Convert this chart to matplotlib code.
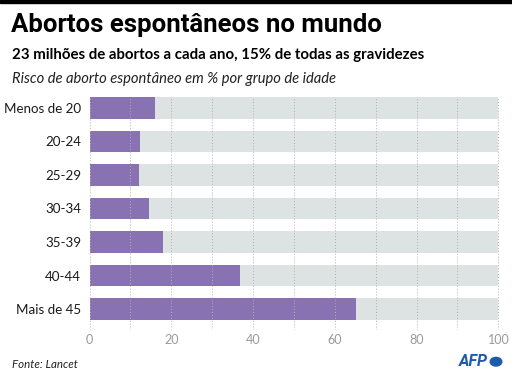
import matplotlib.pyplot as plt
from matplotlib.patches import Circle, Rectangle

# Data: miscarriage risk (%) by age group
groups = ["Menos de 20", "20-24", "25-29", "30-34", "35-39", "40-44", "Mais de 45"]
risk = [15.9, 12.3, 12.0, 14.5, 18.0, 36.9, 65.3]
xticks = [0, 20, 40, 60, 80, 100]

purple = "#8872b2"
track = "#dde3e3"
grey_txt = "#9a9a9a"
font = "Lato"

W, H = 512, 381
fig = plt.figure(figsize=(W / 100, H / 100), dpi=100)

# black band on top
fig.patches.append(Rectangle((0, 1 - 3 / H), 1, 3 / H, transform=fig.transFigure,
                             color="black", zorder=5))

ax = fig.add_axes([89.5 / W, 1 - 330 / H, (500 - 89.5) / W, (330 - 97) / H])
y = list(range(len(groups)))
ax.barh(y, [100] * len(groups), height=0.65, color=track, zorder=1)
ax.barh(y, risk, height=0.65, color=purple, zorder=2)

ax.set_xlim(0, 100.4)
ax.set_ylim(6.625, -0.325)
for gx in range(0, 101, 10):
    ax.axvline(gx, color="#b0b0b0", lw=0.7, ls=(0, (1, 2)), zorder=3)

ax.set_yticks(y)
ax.set_yticklabels(groups, fontsize=9.6, fontfamily=font, color="#1a1a1a")
ax.set_xticks(xticks)
ax.set_xticklabels([str(t) for t in xticks], fontsize=9, fontfamily=font, color=grey_txt)
ax.tick_params(axis="both", length=0)
ax.tick_params(axis="y", pad=6)
ax.tick_params(axis="x", pad=3)
for s in ax.spines.values():
    s.set_visible(False)

fig.text(11 / W, 1 - 25 / H, "Abortos espontâneos no mundo", fontsize=18.5,
         fontweight="bold", fontfamily="Roboto", va="center", ha="left")
fig.text(12 / W, 1 - 55 / H, "23 milhões de abortos a cada ano, 15% de todas as gravidezes",
         fontsize=10.8, fontweight="bold", fontfamily=font, va="center", ha="left")
fig.text(12 / W, 1 - 79 / H, "Risco de aborto espontâneo em % por grupo de idade",
         fontsize=10.6, style="italic", fontfamily=font, va="center", ha="left", color="#222222")
fig.text(12 / W, 1 - 365 / H, "Fonte: Lancet", fontsize=8.3, style="italic",
         fontfamily=font, va="center", ha="left", color="#222222")

# AFP logo
afp_blue = "#1d5ca8"
fig.text(488 / W, 1 - 362 / H, "AFP", fontsize=11.5, fontweight="bold", style="italic",
         fontfamily="Roboto", color=afp_blue, va="center", ha="right")
fig.patches.append(Circle((496 / W, 1 - 361.7 / H), 5.8 / W, transform=fig.transFigure,
                          color=afp_blue))

fig.savefig("out.png", dpi=100)
